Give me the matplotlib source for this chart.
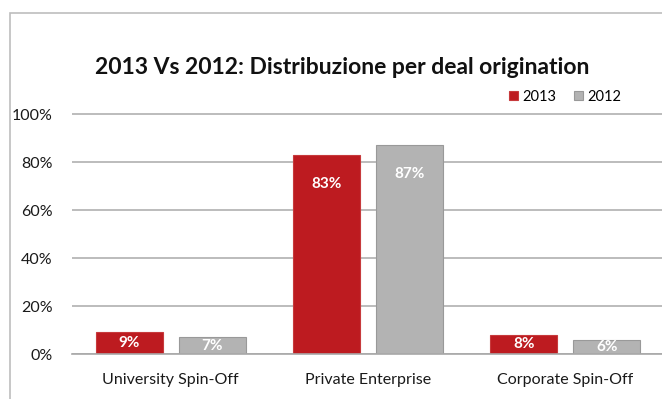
import numpy as np
import matplotlib
matplotlib.use("Agg")
import matplotlib.pyplot as plt
from matplotlib.patches import Rectangle
from matplotlib.ticker import FuncFormatter

plt.rcParams['font.family'] = ['Lato', 'DejaVu Sans']

# deal origination shares (%)
categories = ['University Spin-Off', 'Private Enterprise', 'Corporate Spin-Off']
share_2013 = [9, 83, 8]
share_2012 = [7, 87, 6]

red = '#BD1B20'
grey = '#B3B3B3'

fig = plt.figure(figsize=(6.62, 3.99), dpi=100)
W, H = 662, 399

# outer chart frame (top and left edges visible)
fig.patches.append(Rectangle((10 / W, -0.1), 1.2, (H - 13) / H + 0.1,
                             transform=fig.transFigure, fill=False,
                             edgecolor='#BDBDBD', linewidth=1.2))

ax = fig.add_axes([72 / W, 45 / H, 1 - 72 / W, 252 / H])
x = np.arange(len(categories))
w = 0.34
off = 0.21

b13 = ax.bar(x - off, share_2013, w, color=red, edgecolor='#C73A3C',
             linewidth=0.8, zorder=3, label='2013')
b12 = ax.bar(x + off, share_2012, w, color=grey, edgecolor='#999999',
             linewidth=0.8, zorder=3, label='2012')

for bars, vals in ((b13, share_2013), (b12, share_2012)):
    for b, v in zip(bars, vals):
        y = v - 12 if v > 24 else v / 2
        ax.text(b.get_x() + b.get_width() / 2, y, f'{v}%', ha='center',
                va='center', color='white', fontsize=11, fontweight='bold',
                zorder=4)

ax.set_xlim(-0.5, 2.49)
ax.set_ylim(0, 105)
ax.set_yticks(range(0, 101, 20))
ax.yaxis.set_major_formatter(FuncFormatter(lambda v, p: f'{int(v)}%'))
ax.grid(axis='y', color='#B0B0B0', linewidth=1.2, zorder=0)
ax.set_axisbelow(True)
for s in ['top', 'right', 'left']:
    ax.spines[s].set_visible(False)
ax.spines['bottom'].set_color('#A8A8A8')
ax.spines['bottom'].set_linewidth(1.2)
ax.spines['bottom'].set_zorder(5)
ax.set_xticks(x)
ax.set_xticklabels(categories, fontsize=11.5, color='#1A1A1A')
ax.tick_params(axis='both', length=0, colors='#1A1A1A', labelsize=11.5)
ax.tick_params(axis='y', pad=14)
ax.tick_params(axis='x', pad=14)

fig.text(342 / W, 1 - 68 / H, '2013 Vs 2012: Distribuzione per deal origination',
         ha='center', va='center', fontsize=16.5, fontweight='bold',
         color='#111111')

leg = fig.legend(handles=[b13, b12], loc='center', bbox_to_anchor=(565 / W, 1 - 97 / H),
                 ncol=2, frameon=False, fontsize=10.5, handlelength=0.6,
                 handleheight=0.6, handletextpad=0.3, columnspacing=1.2)

fig.savefig('out.png', dpi=100)
